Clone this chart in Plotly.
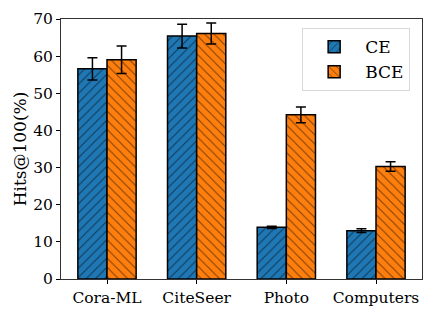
import plotly.graph_objects as go

categories = ["Cora-ML", "CiteSeer", "Photo", "Computers"]
ce_values = [56.6, 65.4, 13.9, 13.0]
ce_errors = [3.0, 3.2, 0.3, 0.5]
bce_values = [59.0, 66.1, 44.2, 30.3]
bce_errors = [3.7, 2.8, 2.1, 1.3]
y_ticks = [0, 10, 20, 30, 40, 50, 60, 70]

BLUE = "#1f77b4"
ORANGE = "#ff7f0e"
FONT = "DejaVu Serif"
W = 0.325

x_idx = list(range(len(categories)))

fig = go.Figure()
fig.add_trace(go.Bar(
    name="CE", x=[i - W / 2 for i in x_idx], y=ce_values, width=W,
    marker=dict(color=BLUE, line=dict(color="black", width=1.5),
                pattern=dict(shape="/", fgcolor="black", bgcolor=BLUE, size=6.5, solidity=0.17)),
    error_y=dict(type="data", array=ce_errors, color="black", thickness=1.5, width=5),
))
fig.add_trace(go.Bar(
    name="BCE", x=[i + W / 2 for i in x_idx], y=bce_values, width=W,
    marker=dict(color=ORANGE, line=dict(color="black", width=1.5),
                pattern=dict(shape="\\", fgcolor="black", bgcolor=ORANGE, size=6.5, solidity=0.17)),
    error_y=dict(type="data", array=bce_errors, color="black", thickness=1.5, width=5),
))

fig.update_layout(
    width=436, height=317,
    margin=dict(l=61, r=14, t=19, b=38, autoexpand=False),
    plot_bgcolor="white", paper_bgcolor="white",
    font=dict(family=FONT, size=15, color="black"),
    barmode="overlay",
    showlegend=True,
    legend=dict(x=0.668, y=0.965, xanchor="left", yanchor="top",
                bordercolor="#d9d9d9", borderwidth=1, bgcolor="white",
                font=dict(family=FONT, size=17), itemwidth=52,
                tracegroupgap=4),
    xaxis=dict(range=[-0.513, 3.513], tickmode="array", tickvals=x_idx, ticktext=categories,
               ticks="outside", ticklen=4, tickcolor="black", showline=True, linecolor="#333",
               linewidth=1, mirror=True, showgrid=False, zeroline=False, automargin=False,
               tickfont=dict(family=FONT, size=15.5)),
    yaxis=dict(range=[0, 70], tickmode="array", tickvals=y_ticks,
               ticks="outside", ticklen=4, tickcolor="black", showline=True, linecolor="#333",
               linewidth=1, mirror=True, showgrid=False, zeroline=False, automargin=False,
               tickfont=dict(family=FONT, size=15.5),
               title=dict(text="Hits@100(%)", font=dict(family=FONT, size=17), standoff=2)),
)

fig.write_html("out.html", config={"displayModeBar": False},
               post_script="document.body.style.margin='0';")
